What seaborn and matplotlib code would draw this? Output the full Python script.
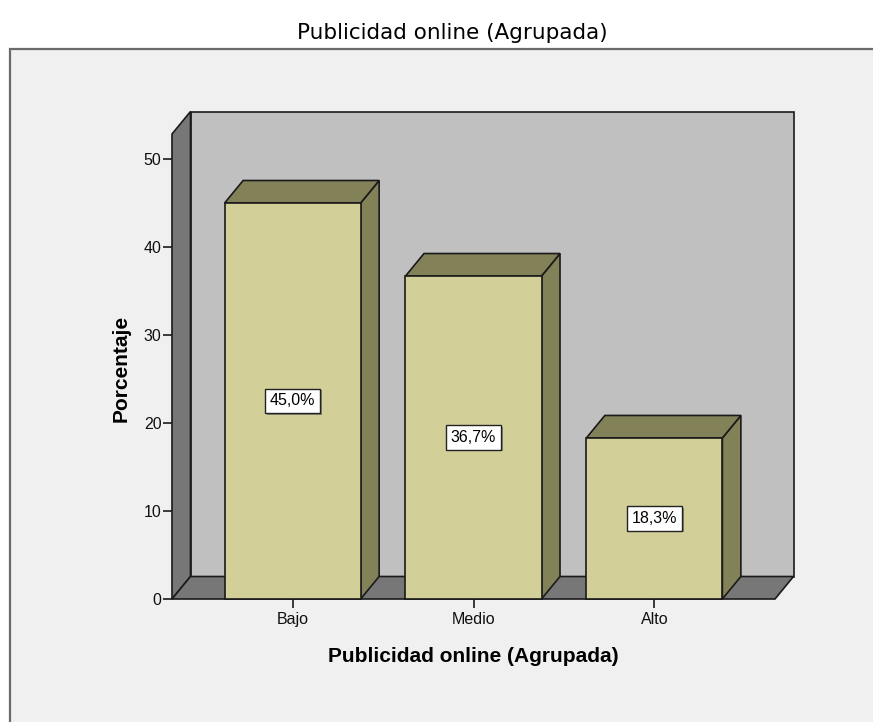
import matplotlib
matplotlib.use("Agg")
import matplotlib.pyplot as plt
from matplotlib.patches import Polygon, Rectangle
import matplotlib.patheffects as pe
import seaborn as sns
import pandas as pd

# Frequency table for the grouped variable
categorias = ["Bajo", "Medio", "Alto"]
porcentajes = [45.0, 36.7, 18.3]
etiquetas = ["45,0%", "36,7%", "18,3%"]
yticks = [0, 10, 20, 30, 40, 50]

titulo = "Publicidad online (Agrupada)"
eje_x = "Publicidad online (Agrupada)"
eje_y = "Porcentaje"

sns.set_style("white")
plt.rcParams["font.family"] = ["Liberation Sans", "DejaVu Sans"]

W, H = 873, 722
fig = plt.figure(figsize=(W / 100, H / 100), dpi=100, facecolor="white")

# light grey chart panel with its frame
fig.patches.append(Rectangle((10 / W, -0.05), 1.0, 1 - 48.5 / H + 0.05,
                             transform=fig.transFigure, facecolor="#f0f0f0",
                             edgecolor="#6b6b6b", linewidth=1.6, zorder=-5))

ax = fig.add_axes([172 / W, 1 - 599 / H, 603 / W, 465 / H])
ax.set_zorder(2)
ax.patch.set_visible(False)

ymax = 52.84
xmin, xmax = -0.667, 2.667
dx = 18.5 / (603 / (xmax - xmin))
dy = 22.5 / (465 / ymax)

edge = "#1a1a1a"
wall = "#c0c0c0"
dark = "#777777"
front = "#d3cf98"
shade = "#838158"

df = pd.DataFrame({"categoria": categorias, "porcentaje": porcentajes})
sns.barplot(data=df, x="categoria", y="porcentaje", color=front, saturation=1,
            width=0.752, edgecolor=edge, linewidth=1.2, errorbar=None, ax=ax)
bars = list(ax.patches)

# 3D box: back wall, left wall and floor
ax.add_patch(Rectangle((xmin + dx, dy), xmax - xmin, ymax, facecolor=wall,
                       edgecolor=edge, linewidth=1.2, clip_on=False, zorder=0.2))
ax.add_patch(Polygon([(xmin, 0), (xmin + dx, dy), (xmin + dx, ymax + dy), (xmin, ymax)],
                     closed=True, facecolor=dark, edgecolor=edge, linewidth=1.2,
                     clip_on=False, zorder=0.3))
ax.add_patch(Polygon([(xmin, 0), (xmax, 0), (xmax + dx, dy), (xmin + dx, dy)],
                     closed=True, facecolor=dark, edgecolor=edge, linewidth=1.2,
                     clip_on=False, zorder=0.3))

# depth faces of each bar and the value boxes
for p, lab in zip(bars, etiquetas):
    x0, w, h = p.get_x(), p.get_width(), p.get_height()
    x1 = x0 + w
    p.set_zorder(3)
    p.set_clip_on(False)
    ax.add_patch(Polygon([(x1, 0), (x1 + dx, dy), (x1 + dx, h + dy), (x1, h)],
                         closed=True, facecolor=shade, edgecolor=edge,
                         linewidth=1.2, clip_on=False, zorder=2.9))
    ax.add_patch(Polygon([(x0, h), (x0 + dx, h + dy), (x1 + dx, h + dy), (x1, h)],
                         closed=True, facecolor=shade, edgecolor=edge,
                         linewidth=1.2, clip_on=False, zorder=2.9))
    t = ax.text(x0 + w / 2, h / 2, lab, ha="center", va="center", fontsize=11.5,
                color="black", zorder=5,
                bbox=dict(boxstyle="square,pad=0.3", fc="white", ec="#222222", lw=1.0))
    t.get_bbox_patch().set_path_effects(
        [pe.SimplePatchShadow(offset=(1.2, -1.2), shadow_rgbFace="#555555", alpha=0.6),
         pe.Normal()])

ax.set_xlim(xmin, xmax)
ax.set_ylim(0, ymax)
ax.set_yticks(yticks)
ax.set_yticklabels([str(v) for v in yticks])
for s in ax.spines.values():
    s.set_visible(False)
ax.tick_params(axis="y", left=True, length=6.5, width=1.2, pad=1, labelsize=11.5,
               color=edge, labelcolor="#111111")
ax.tick_params(axis="x", bottom=True, length=6.5, width=1.2, pad=3, labelsize=11.5,
               color=edge, labelcolor="#111111")
ax.set_xlabel("")
ax.set_ylabel("")

fig.text(452 / W, 1 - 33 / H, titulo, ha="center", va="center", fontsize=15.5,
         family=["DejaVu Sans"], color="black")
fig.text(473.5 / W, 1 - 656 / H, eje_x, ha="center", va="center", fontsize=15,
         fontweight="bold", color="black")
fig.text(121 / W, 1 - 368 / H, eje_y, ha="center", va="center", fontsize=15,
         fontweight="bold", rotation=90, color="black")

fig.savefig("out.png", dpi=100, facecolor="white")
